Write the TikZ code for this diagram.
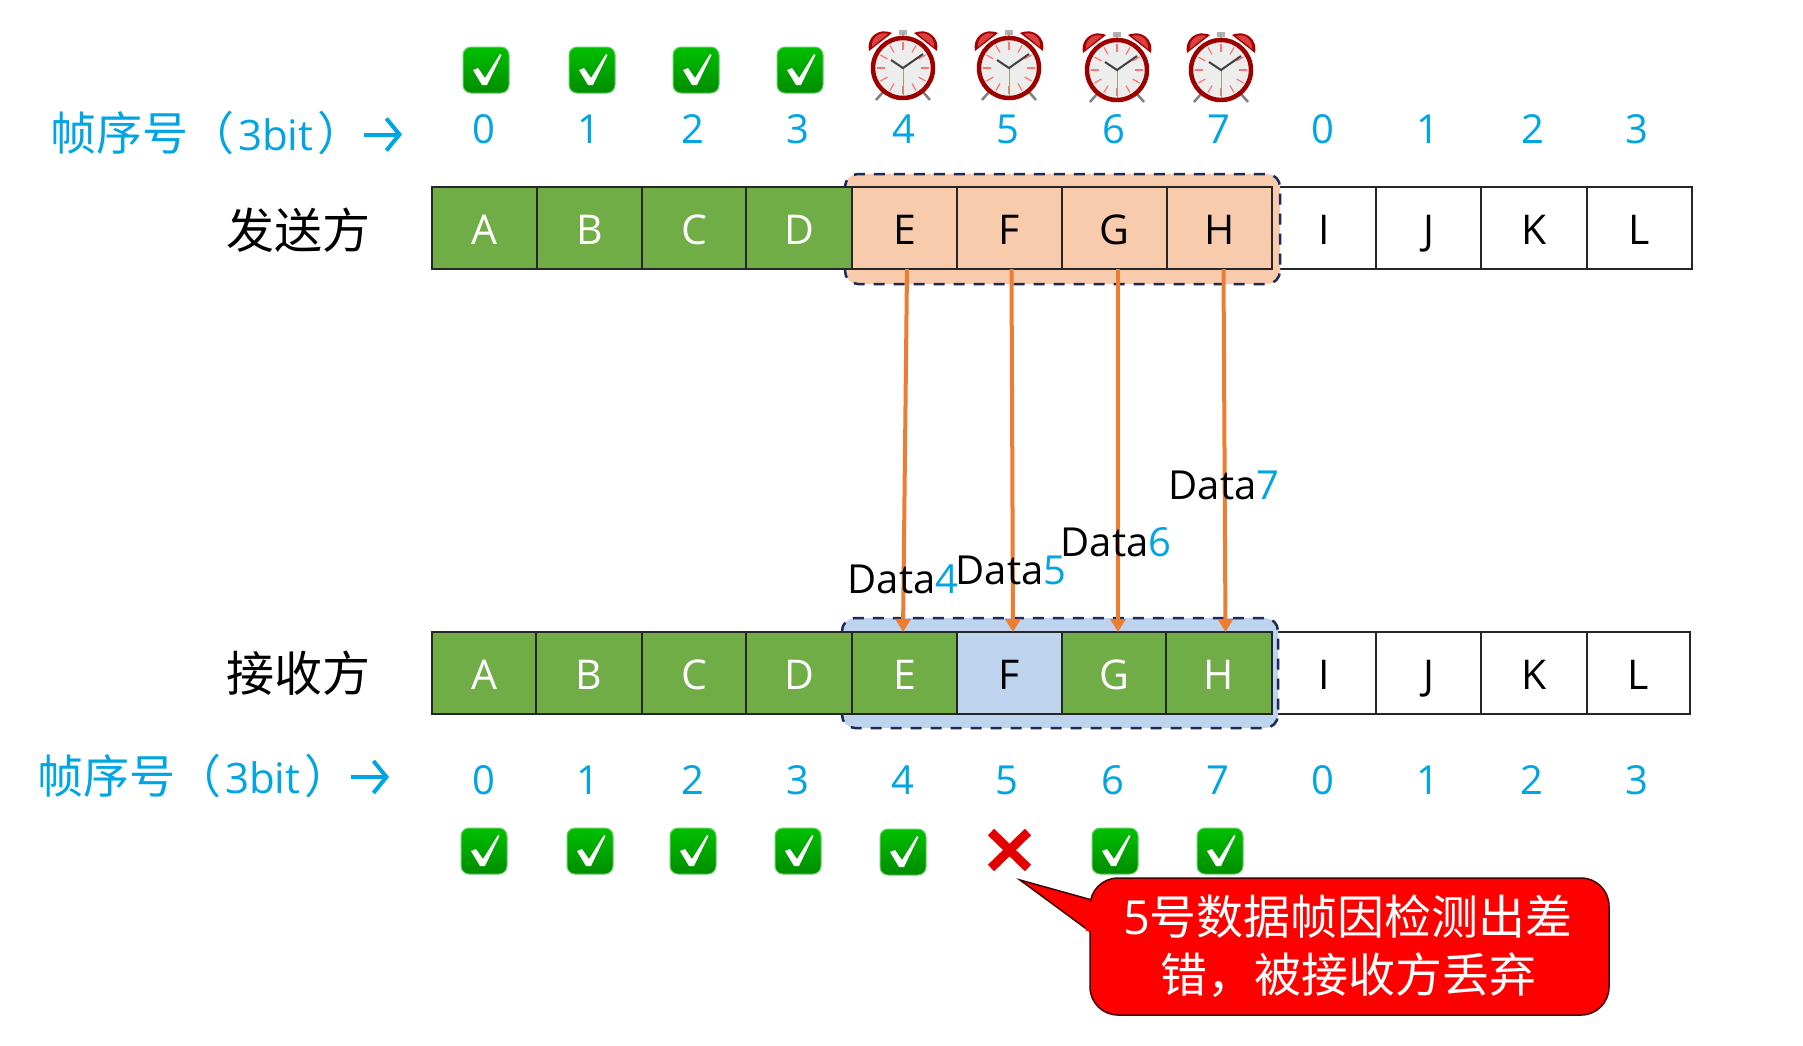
\documentclass[tikz,border=0pt]{standalone}
\usepackage{fontspec}
\setmainfont{Open Sans}
\newfontfamily\cjk{Noto Sans CJK SC}
\usetikzlibrary{arrows.meta}
\definecolor{cyanx}{HTML}{00A5E3}
\definecolor{greenx}{HTML}{70AD47}
\definecolor{peachx}{HTML}{F8CBAD}
\definecolor{bluex}{HTML}{BDD3EE}
\definecolor{orangex}{HTML}{ED7D31}
\definecolor{navyx}{HTML}{1B2A5A}
\tikzset{
  cellbase/.style={draw=black!85,line width=1.5pt,inner sep=0pt,outer sep=0pt,minimum height=82pt,text height=33pt,text depth=0pt,font=\fontsize{41}{44}\selectfont},
  gcell/.style={cellbase,fill=greenx,text=white},
  pcell/.style={cellbase,fill=peachx,text=black},
  bcell/.style={cellbase,fill=bluex,text=black},
  wcell/.style={cellbase,fill=white,text=black},
  digit/.style={text=cyanx,inner sep=0pt,font=\fontsize{40}{42}\selectfont},
  seqlabel/.style={text=cyanx,inner sep=0pt,anchor=base west,font=\fontsize{42}{46}\selectfont},
  rolelabel/.style={inner sep=0pt,font=\cjk\fontsize{48}{52}\selectfont},
  datalabel/.style={inner sep=0pt,anchor=base,font=\fontsize{40}{44}\selectfont},
  seqarrow/.style={draw=cyanx,line width=4pt,-{Straight Barb[length=13pt,width=32pt]}},
  sendarrow/.style={draw=orangex,line width=4pt,-{Triangle[length=13pt,width=15pt]}},
  windowbox/.style={rounded corners=13pt,draw=navyx,line width=2.5pt,dash pattern=on 11pt off 9pt},
  calloutbox/.style={fill=red,draw=black!75!red,line width=1.5pt},
  callouttext/.style={text=white,inner sep=0pt,font=\cjk\fontsize{47}{52}\selectfont},
  chk/.pic={
    \path[draw=green!70!black!60,line width=1pt,rounded corners=8pt,top color=green!75!black,bottom color=green!55!black]
      (-23,-23) rectangle (23,23);
    \fill[white] (-13,0) -- (-8,-2) -- (-1,8) -- (14,-16) -- (15.5,-15) -- (1,15) -- (-4,15) -- cycle;
  },
  clockpic/.pic={
    \draw[gray,line width=2.5pt] (-20,24) -- (-27,32) (20,24) -- (27,32);
    \fill[gray!60] (-4,-38) rectangle (4,-33);
    \draw[gray!70,line width=2pt] (0,-36) -- (0,-30);
    \fill[red!65!black] (-34,-17) .. controls (-37,-30) and (-25,-41) .. (-11,-35) -- cycle;
    \fill[red!65!black] (34,-17) .. controls (37,-30) and (25,-41) .. (11,-35) -- cycle;
    \fill[red!70!white!85!black] (-31,-21) .. controls (-32,-30) and (-24,-37) .. (-15,-34) -- cycle;
    \fill[red!70!white!85!black] (31,-21) .. controls (32,-30) and (24,-37) .. (15,-34) -- cycle;
    \draw[draw=red!62!black,line width=4.5pt,fill=gray!14] (0,0) circle (30);
    \foreach \a in {0,30,...,330}
      \draw[red!55!white,line width=1.2pt] (\a:18) -- (\a:26);
    \draw[black!30!yellow!40!gray,line width=1pt] (0,0) -- (0,27);
    \draw[black!75,line width=2pt] (-12,-8) -- (0,0) -- (20,-14);
  }
}
\begin{document}
\begin{tikzpicture}[x=1pt,y=-1pt]
\useasboundingbox[fill=white] (0,0) rectangle (1803,1045);

% white cells first: the windows lie over their left edge
\foreach \nm/\tx/\xa/\xb in {I/I/1272/1376,J/J/1376/1481,K/K/1481/1587,L/L/1587/1692}
  \node[wcell,minimum width=\xb-\xa] (s\nm) at ({(\xa+\xb)/2},228) {\tx};
\foreach \nm/\tx/\xa/\xb in {I/I/1272/1376,J/J/1376/1481,K/K/1481/1587,L/L/1587/1690}
  \node[wcell,minimum width=\xb-\xa] (r\nm) at ({(\xa+\xb)/2},673) {\tx};

% send and receive windows
\draw[windowbox,fill=peachx] (845,174) rectangle (1280,284);
\draw[windowbox,fill=bluex] (842,618) rectangle (1278,728);

% sender row
\foreach \nm/\tx/\xa/\xb/\sty in {A/A/432/537/gcell,B/B/537/642/gcell,C/C/642/746/gcell,D/D/746/852/gcell,E/E/852/957/pcell,F/F/957/1062/pcell,G/G/1062/1167/pcell,H/H/1167/1272/pcell}
  \node[\sty,minimum width=\xb-\xa] (s\nm) at ({(\xa+\xb)/2},228) {\tx};
% receiver row
\foreach \nm/\tx/\xa/\xb/\sty in {A/A/432/536/gcell,B/B/536/642/gcell,C/C/642/746/gcell,D/D/746/852/gcell,E/E/852/957/gcell,F/F/957/1062/bcell,G/G/1062/1166/gcell,H/H/1166/1272/gcell}
  \node[\sty,minimum width=\xb-\xa] (r\nm) at ({(\xa+\xb)/2},673) {\tx};

% sequence numbers
\foreach \nm/\tx/\xc in {a/0/484,b/1/589,c/2/693,d/3/798,e/4/904,f/5/1008,g/6/1114,h/7/1219,i/0/1323,j/1/1428,k/2/1533,l/3/1637}
  \node[digit] (td\nm) at (\xc,129) {\tx};
\foreach \nm/\tx/\xc in {a/0/484,b/1/588,c/2/693,d/3/798,e/4/903,f/5/1007,g/6/1113,h/7/1218,i/0/1323,j/1/1428,k/2/1532,l/3/1637}
  \node[digit] (bd\nm) at (\xc,780) {\tx};

% sequence labels
\node[seqlabel] (toplabel) at (50,150) {{\cjk\fontsize{46}{50}\selectfont 帧序号（}\hspace{4pt}3bit\hspace{4pt}{\cjk\fontsize{46}{50}\selectfont ）}};
\node[seqlabel] (botlabel) at (37,793) {{\cjk\fontsize{46}{50}\selectfont 帧序号（}\hspace{4pt}3bit\hspace{4pt}{\cjk\fontsize{46}{50}\selectfont ）}};
\coordinate (ta0) at (364,134.5); \coordinate (ta1) at (402,134.5);
\coordinate (ba0) at (351,777);   \coordinate (ba1) at (389,777);
\draw[seqarrow] (ta0) -- (ta1);
\draw[seqarrow] (ba0) -- (ba1);

% roles
\node[rolelabel] (sender) at (298,230) {发送方};
\node[rolelabel] (receiver) at (298,673) {接收方};

% ticks and clocks
\foreach \xc in {486,592,696,800} \pic at (\xc,70) {chk};
\foreach \xc in {484,590,693,798} \pic at (\xc,851) {chk};
\pic at (903,852) {chk};
\pic at (1115,851) {chk};
\pic at (1220,851) {chk};
\pic at (903,68) {clockpic};
\pic at (1009,68) {clockpic};
\pic at (1117,70) {clockpic};
\pic at (1221,70) {clockpic};

% cross
\draw[red!90!black,line width=9pt] (991,832) -- (1028,868) (1028,832) -- (991,868);

% connectors
\draw[sendarrow] ([xshift=2.5pt]sE.south) -- ([xshift=-1.5pt]rE.north);
\draw[sendarrow] ([xshift=2pt]sF.south) -- ([xshift=3.5pt]rF.north);
\draw[sendarrow] ([xshift=3.5pt]sG.south) -- ([xshift=4pt]rG.north);
\draw[sendarrow] ([xshift=4pt]sH.south) -- ([xshift=6.5pt]rH.north);

% data labels
\node[datalabel] (d4) at (903,593) {Data{\color{cyanx}4}};
\node[datalabel] (d5) at (1011,584) {Data{\color{cyanx}5}};
\node[datalabel] (d6) at (1116,556) {Data{\color{cyanx}6}};
\node[datalabel] (d7) at (1224,499) {Data{\color{cyanx}7}};

% callout
\draw[calloutbox] (1092,900) -- (1020,880) -- (1092,933) -- cycle;
\draw[calloutbox,rounded corners=28pt] (1090,878) rectangle (1609,1015);
\fill[red] (1086,902) rectangle (1095,931);
\node[callouttext] (c1) at (1348,917) {{\fontspec{Open Sans}5}号数据帧因检测出差};
\node[callouttext] (c2) at (1348,975) {错，被接收方丢弃};
\end{tikzpicture}
\end{document}
